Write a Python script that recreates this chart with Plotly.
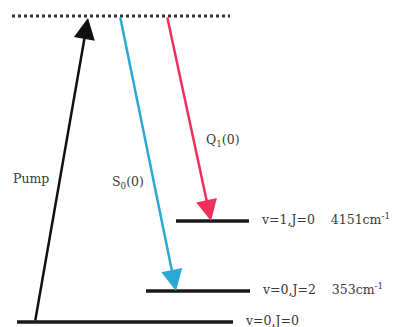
import plotly.graph_objects as go

# Energy levels (diagram units, ground state = 0)
level_names = ["v=0,J=0", "v=0,J=2", "v=1,J=0", "virtual"]
level_energy = [0, 31, 101, 306]
level_x0 = [17, 146, 176, 12]
level_x1 = [233, 250, 249, 230]
level_wavenumber = ["", "353cm<sup>-1</sup>", "4151cm<sup>-1</sup>", ""]

# Transitions: (label, start x, end x, from level, to level, colour)
trans_labels = ["Pump", "S<sub>0</sub>(0)", "Q<sub>1</sub>(0)"]
trans_x_start = [35, 120, 167]
trans_x_end = [88, 176, 211]
trans_from = [0, 3, 3]
trans_to = [3, 1, 2]
trans_colors = ["#111111", "#2ba9d6", "#f0305c"]
trans_label_pos = [(31, 144), (128, 140), (223, 182)]

FONT = "DejaVu Serif"
fig = go.Figure()

for i, name in enumerate(level_names):
    is_virtual = name == "virtual"
    fig.add_trace(go.Scatter(
        x=[level_x0[i], level_x1[i]],
        y=[level_energy[i], level_energy[i]],
        mode="lines",
        line=dict(color="#333333" if is_virtual else "#1a1a1a",
                  width=3 if is_virtual else 3.5,
                  dash="dot" if is_virtual else "solid"),
        hoverinfo="skip", showlegend=False))
    if not is_virtual:
        txt = name if not level_wavenumber[i] else f"{name}&nbsp;&nbsp;&nbsp;&nbsp;{level_wavenumber[i]}"
        fig.add_annotation(x=level_x1[i] + 10, y=level_energy[i] + 2, text=txt,
                           showarrow=False, xanchor="left", yanchor="middle",
                           font=dict(family=FONT, size=12.5, color="#3a3a3a"))

for i, lab in enumerate(trans_labels):
    y0 = level_energy[trans_from[i]]
    y1 = level_energy[trans_to[i]]
    tip_y = y1 - 2 if trans_to[i] == 3 else y1
    fig.add_annotation(
        x=trans_x_end[i], y=tip_y, ax=trans_x_start[i], ay=y0,
        xref="x", yref="y", axref="x", ayref="y",
        showarrow=True, arrowhead=2, arrowsize=1.7, arrowwidth=2.5,
        arrowcolor=trans_colors[i], text="")
    lx, ly = trans_label_pos[i]
    fig.add_annotation(x=lx, y=ly, text=lab, showarrow=False,
                       font=dict(family=FONT, size=12.5, color="#3a3a3a"))

fig.update_xaxes(range=[0, 404], visible=False)
fig.update_yaxes(range=[-5, 322], visible=False)
fig.update_layout(width=404, height=327, margin=dict(l=0, r=0, t=0, b=0),
                  plot_bgcolor="white", paper_bgcolor="white")
fig.write_html("out.html")
